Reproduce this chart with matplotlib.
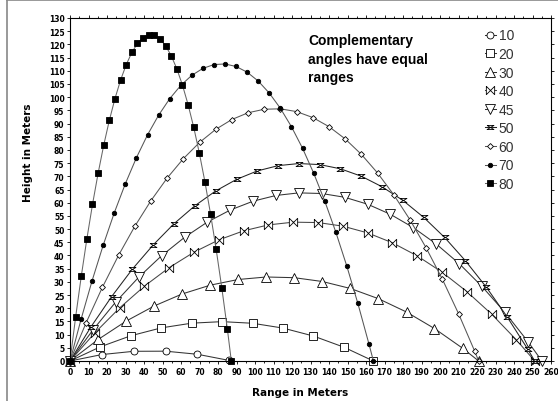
import matplotlib
matplotlib.use("Agg")
import matplotlib.pyplot as plt
from matplotlib.lines import Line2D

# trajectory points (range, height in metres)
x10 = [0, 17.2, 34.5, 51.7, 68.9, 86.2]
y10 = [0, 2.44, 3.68, 3.72, 2.55, 0.19]

x20 = [0, 16.4, 32.9, 49.3, 65.8, 82.2, 98.7, 115.1, 131.6, 148.0, 164.0]
y20 = [0, 5.38, 9.57, 12.55, 14.34, 14.92, 14.30, 12.48, 9.46, 5.25, 0]

x30 = [0, 15.2, 30.3, 45.5, 60.6, 75.8, 90.9, 106.1, 121.2, 136.4, 151.6,
       166.7, 181.9, 197.0, 212.2, 220.9]
y30 = [0, 8.15, 15.10, 20.85, 25.40, 28.74, 30.89, 31.84, 31.58, 30.13,
       27.48, 23.62, 18.56, 12.31, 4.85, 0]

x40 = [0, 13.4, 26.8, 40.2, 53.6, 67.0, 80.4, 93.8, 107.2, 120.7, 134.1,
       147.5, 160.9, 174.3, 187.7, 201.1, 214.5, 227.9, 241.3, 251.2]
y40 = [0, 10.65, 20.10, 28.35, 35.39, 41.24, 45.89, 49.33, 51.58, 52.62,
       52.47, 51.11, 48.55, 44.80, 39.84, 33.68, 26.32, 17.76, 8.00, 0]

x45 = [0, 12.4, 24.7, 37.1, 49.5, 61.9, 74.2, 86.6, 99.0, 111.4, 123.7,
       136.1, 148.5, 160.9, 173.2, 185.6, 198.0, 210.4, 222.7, 235.1, 247.5,
       255.1]
y45 = [0, 11.77, 22.35, 31.72, 39.89, 46.86, 52.64, 57.21, 60.58, 62.75,
       63.72, 63.48, 62.05, 59.42, 55.59, 50.55, 44.32, 36.89, 28.25, 18.42,
       7.38, 0]

x50 = [0, 11.2, 22.5, 33.7, 45.0, 56.2, 67.5, 78.7, 90.0, 101.2, 112.5,
       123.7, 135.0, 146.2, 157.5, 168.7, 180.0, 191.2, 202.5, 213.7, 225.0,
       236.2, 247.5, 251.2]
y50 = [0, 12.81, 24.41, 34.82, 44.02, 52.02, 58.83, 64.43, 68.83, 72.03,
       74.04, 74.84, 74.44, 72.84, 70.03, 66.03, 60.84, 54.43, 46.83, 38.02,
       28.02, 16.82, 4.41, 0]

x60 = [0, 8.75, 17.5, 26.25, 35.0, 43.75, 52.5, 61.25, 70.0, 78.75, 87.5,
       96.25, 105.0, 113.75, 122.5, 131.25, 140.0, 148.75, 157.5, 166.25,
       175.0, 183.75, 192.5, 201.25, 210.0, 218.75, 220.9]
y60 = [0, 14.55, 27.91, 40.06, 51.02, 60.77, 69.32, 76.67, 82.82, 87.78,
       91.53, 94.08, 95.42, 95.58, 94.52, 92.27, 88.82, 84.17, 78.31, 71.26,
       63.00, 53.55, 42.89, 31.04, 17.98, 3.72, 0]

x70 = [0, 5.99, 11.97, 17.96, 23.94, 29.93, 35.91, 41.90, 47.88, 53.87,
       59.85, 65.84, 71.82, 77.81, 83.79, 89.78, 95.76, 101.75, 107.73,
       113.72, 119.70, 125.69, 131.67, 137.66, 143.64, 149.63, 155.61,
       161.60, 164.0]
y70 = [0, 15.84, 30.49, 43.93, 56.18, 67.22, 77.06, 85.70, 93.14, 99.39,
       104.43, 108.27, 110.90, 112.35, 112.58, 111.62, 109.46, 106.10,
       101.53, 95.77, 88.80, 80.64, 71.27, 60.71, 48.94, 35.97, 21.80, 6.44, 0]

x80 = [0, 3.04, 6.08, 9.12, 12.16, 15.20, 18.23, 21.27, 24.31, 27.35, 30.39,
       33.43, 36.47, 39.51, 42.55, 45.59, 48.62, 51.66, 54.70, 57.74, 60.78,
       63.82, 66.86, 69.90, 72.94, 75.98, 79.01, 82.05, 85.09, 87.2]
y80 = [0, 16.63, 32.07, 46.30, 59.33, 71.16, 81.80, 91.23, 99.46, 106.49,
       112.32, 116.94, 120.37, 122.60, 123.63, 123.45, 122.08, 119.51,
       115.73, 110.76, 104.58, 97.20, 88.63, 78.85, 67.88, 55.69, 42.31,
       27.74, 11.95, 0]

labels = ["10", "20", "30", "40", "45", "50", "60", "70", "80"]
xs = [x10, x20, x30, x40, x45, x50, x60, x70, x80]
ys = [y10, y20, y30, y40, y45, y50, y60, y70, y80]

bowtie = [(-1, 1), (-1, -1), (1, 1), (1, -1), (-1, 1)]
hourglass = [(-1, 0.6), (1, 0.6), (-1, -0.6), (1, -0.6), (-1, 0.6)]

# marker, size, face colour, line colour
styles = [
    ("o", 5, "white", "#333333"),
    ("s", 6, "white", "#333333"),
    ("^", 6.5, "white", "#333333"),
    (bowtie, 6, "white", "#444444"),
    ("v", 6.5, "white", "#333333"),
    (hourglass, 5, "white", "#222222"),
    ("D", 3, "white", "#555555"),
    ("o", 3.2, "black", "#555555"),
    ("s", 4.5, "black", "#666666"),
]

fig = plt.figure(figsize=(5.58, 4.02), dpi=100)
ax = fig.add_axes([70 / 558, 40 / 402, 481 / 558, 343 / 402])

for x, y, lab, (m, ms, fc, lc) in zip(xs, ys, labels, styles):
    ax.plot(x, y, color=lc, linewidth=0.75, marker=m, markersize=ms,
            markerfacecolor=fc, markeredgecolor="black", markeredgewidth=0.6,
            label=lab, clip_on=False)

ax.set_xlim(0, 260)
ax.set_ylim(0, 130)
ax.set_xticks(range(0, 261, 10))
ax.set_yticks(range(0, 131, 5))
ax.set_xticks(range(5, 260, 10), minor=True)
ax.tick_params(which="both", top=True, right=True, labelsize=5.5,
               width=0.6, pad=1.5)
ax.tick_params(which="major", length=2.5)
ax.tick_params(which="minor", length=1.5)
for lbl in ax.get_xticklabels() + ax.get_yticklabels():
    lbl.set_fontweight("bold")
for s in ax.spines.values():
    s.set_linewidth(0.8)

ax.set_xlabel("Range in Meters", fontsize=7.5, fontweight="bold")
ax.set_ylabel("Height in Meters", fontsize=7.5, fontweight="bold")
ax.xaxis.set_label_coords(0.478, -0.075)
ax.yaxis.set_label_coords(-0.077, 0.61)

ax.text(0.495, 0.955, "Complementary\nangles have equal\nranges",
        transform=ax.transAxes, fontsize=10, fontweight="bold",
        family="Liberation Sans", va="top", ha="left", linespacing=1.4)

leg = ax.legend(loc="upper left", bbox_to_anchor=(0.848, 0.99),
                frameon=False, handlelength=0.8,
                handletextpad=0.2, labelspacing=0.33, borderpad=0,
                prop={"family": "Liberation Sans", "size": 10})
for t in leg.get_texts():
    t.set_color("#333333")

# outer frame remnants
fig.add_artist(Line2D([7 / 558, 7 / 558], [0, 0.997], color="#888888",
                      linewidth=1.2))
fig.add_artist(Line2D([7 / 558, 1], [0.997, 0.997], color="#888888",
                      linewidth=1.2))

plt.savefig("out.png", dpi=100)
